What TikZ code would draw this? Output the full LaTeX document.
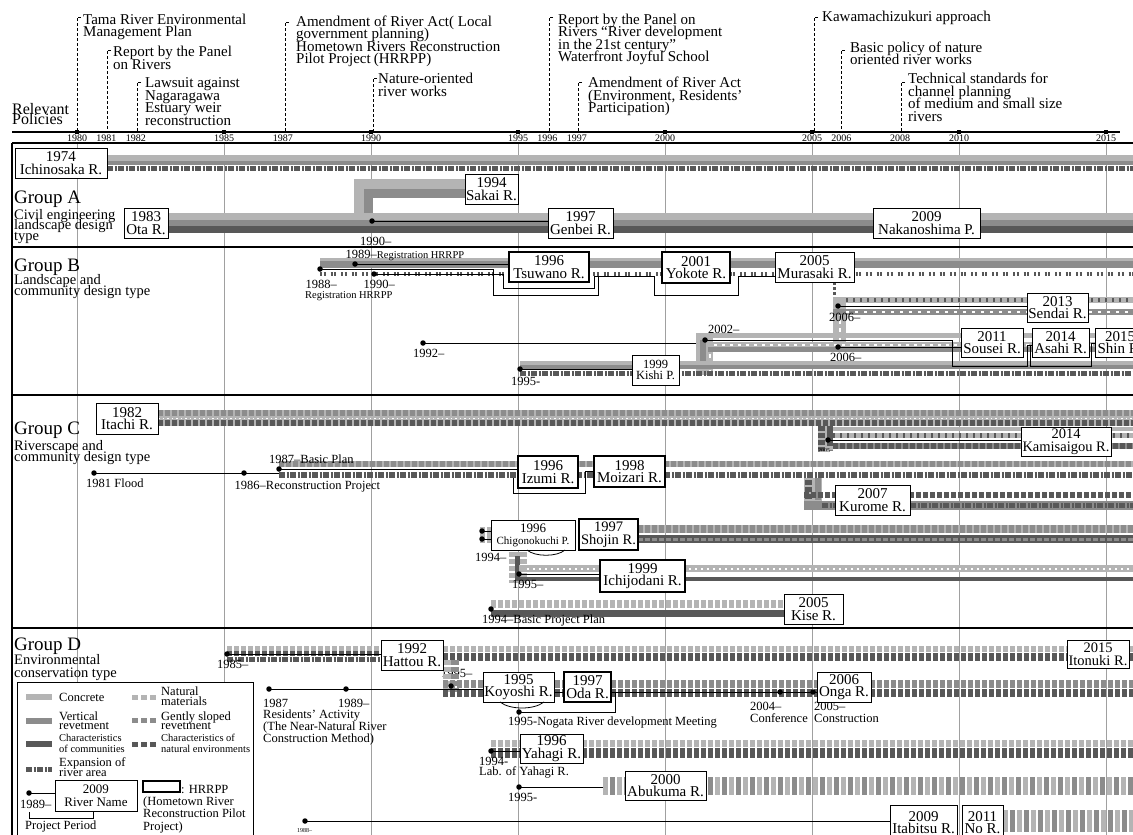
\documentclass[tikz,border=0pt]{standalone}
\usepackage{fontspec}
\setmainfont{Liberation Serif}
\definecolor{cL}{HTML}{B4B4B4}
\definecolor{cM}{HTML}{8C8C8C}
\definecolor{cD}{HTML}{585858}
\definecolor{grd}{HTML}{A0A0A0}
\newcommand\fsz[2]{\fontsize{#1}{#2}\selectfont\lineskiplimit=-100pt\lineskip=0pt\relax}
\newcommand\hb[5][]{\draw[lb,#1,line width=#2] (#4,#3) -- (#5,#3);}
\newcommand\rbx[7][]{\node[rbox,#1,minimum width={(#5-#3)*1pt},minimum height={(#6-#4)*1pt}] (#2) at ({(#3+#5)/2},{(#4+#6)/2}) {#7};}
\begin{document}
\begin{tikzpicture}[x=1pt,y=-1pt,
  lb/.style={line cap=butt},
  sq/.style={dash pattern=on 5pt off 2pt},
  ex/.style={dash pattern=on 6pt off 1.5pt on 2pt off 1.5pt},
  exs/.style={dash pattern=on 2pt off 1.5pt on 2pt off 5pt},
  rbox/.style={draw,fill=white,line width=0.8pt,inner sep=0pt,align=center,font=\fsz{15}{12.6}},
  smb/.style={font=\fsz{14.5}{12.6}},
  hbox/.style={line width=2.8pt},
  txt/.style={inner sep=0pt,anchor=base west,align=left},
  dot/.style={circle,fill=black,inner sep=0pt,minimum size=5.5pt},
  pol/.style={txt,font=\fsz{15}{12.5}},
  ann/.style={txt,font=\fsz{12.5}{12}},
  sml/.style={txt,font=\fsz{10.5}{10.5}},
  tiny/.style={txt,font=\fsz{6}{6}},
  grp/.style={txt,font=\fsz{19}{19}},
  dsc/.style={txt,font=\fsz{14.5}{11}},
  yr/.style={inner sep=0pt,anchor=base,font=\fsz{10}{10}},
  tk/.style={dash pattern=on 3pt off 2pt,line width=0.7pt},
  thn/.style={line width=0.8pt}
]
\clip (0,0) rectangle (1133,835);
\fill[white] (0,0) rectangle (1133,835);

% ---------- grid ----------
\foreach \yy in {1980,1985,...,2015}{\draw[grd,line width=0.7pt] ({77+29.4*(\yy-1980)},143) -- ({77+29.4*(\yy-1980)},835);}

% ---------- axis ----------
\draw[line width=1.6pt] (12,132) -- (1120,132);
\draw[line width=1.6pt] (12,143) -- (1133,143);
\foreach \yy in {1980,1981,1982,1985,1987,1990,1995,1996,1997,2000,2005,2006,2008,2010,2015}{\node[yr] (yl\yy) at ({77+29.4*(\yy-1980)},141) {\yy};}
\foreach \yy in {1980,1985,...,2015}{\fill ({77+29.4*(\yy-1980)-2},130) rectangle ++(4,4);}
\node[txt,font=\fsz{16}{10.5}] (relpol) at (12,124.5) {Relevant\\Policies};

% ---------- policies ----------
\draw[tk] (81,17) -- (77,17) -- (77,132);
\node[pol] (p80) at (83,36.5) {Tama River Environmental\\Management Plan};
\draw[tk] (111,50) -- (107,50) -- (107,132);
\node[pol] (p81) at (113,69) {Report by the Panel\\on Rivers};
\draw[tk] (141,82) -- (137,82) -- (137,132);
\node[pol] (p82) at (145,125) {Lawsuit against\\Nagaragawa\\Estuary weir\\reconstruction};
\draw[tk] (289,22) -- (285,22) -- (285,132);
\node[pol] (p87) at (296,63.5) {Amendment of River Act( Local\\government planning)\\Hometown Rivers Reconstruction\\Pilot Project\hspace{3pt}(HRRPP)};
\draw[tk] (377,78) -- (373,78) -- (373,132);
\node[pol] (p90) at (378,96) {Nature-oriented\\river works};
\draw[tk] (553,17) -- (549,17) -- (549,132);
\node[pol] (p96) at (558,61.5) {Report by the Panel on\\Rivers “River development\\in the 21st century”\\Waterfront Joyful School};
\draw[tk] (582,82) -- (578,82) -- (578,132);
\node[pol] (p97) at (588,112.5) {Amendment of River Act\\(Environment, Residents’\\Participation)};
\draw[tk] (818,17) -- (814,17) -- (814,132);
\node[pol] (p05) at (822,21.5) {Kawamachizukuri approach};
\draw[tk] (845,50) -- (841,50) -- (841,132);
\node[pol] (p06) at (850,64.5) {Basic policy of nature\\oriented river works};
\draw[tk] (905,82) -- (901,82) -- (901,132);
\node[pol] (p08) at (908,121) {Technical standards for\\channel planning\\of medium and small size\\rivers};

% ---------- frame ----------
\draw[line width=1.6pt] (12,143) -- (12,835);
\draw[line width=1.6pt] (12,247) -- (1133,247);
\draw[line width=1.6pt] (12,395) -- (1133,395);
\draw[line width=1.6pt] (12,628) -- (1133,628);

% ---------- Group A ----------
\node[grp] (gA) at (14,203) {Group A};
\node[dsc,font=\fsz{14.5}{10.5}] (gAd) at (14,240) {Civil engineering\\landscape design\\type};
\hb[cL]{6pt}{157.5}{107}{1133}
\hb[cM]{4.5pt}{162.75}{107}{1133}
\hb[cD,ex]{5.5pt}{168.5}{107}{1133}
\hb[cL]{7pt}{216.5}{168}{1133}
\hb[cM]{6pt}{223}{168}{1133}
\hb[cD]{7pt}{229.5}{168}{1133}
\draw[cL,line width=10pt,line join=miter,lb] (465,184) -- (358.5,184) -- (358.5,213);
\draw[cM,line width=9pt,line join=miter,lb] (465,193.5) -- (368,193.5) -- (368,213);
\node[dot] (d90a) at (372,221) {};
\node[ann] (l90a) at (360,245) {1990–};

% ---------- Group B ----------
\node[grp] (gB) at (14,271) {Group B};
\node[dsc] (gBd) at (14,295.5) {Landscape and\\community design type};
\hb[cL]{3pt}{259.5}{320}{1133}
\hb[cM]{7pt}{264.5}{320}{1133}
\hb[cD,exs]{4.5pt}{274}{320}{1133}
\node[dot] (d88) at (320,269) {};
\node[dot] (d89) at (355,264) {};
\node[dot] (d90b) at (374,274) {};
\draw[thn] (d88.center) -- (493,269) -- (493,295) -- (598,295) -- (598,276);
\draw[thn] (d90b.center) -- (503,274) -- (503,288) -- (594,288) -- (594,276);
\draw[thn] (594,276) -- (654,276) -- (654,295) -- (738,295) -- (738,276) -- (775,276);
\node[txt] (l89) at (345.5,258) {\fsz{12.5}{12}1989–\fsz{10.5}{10}Registration HRRPP};
\node[ann] (l88) at (305.5,288) {1988–};
\node[sml] (l88r) at (305,298) {Registration HRRPP};
\node[ann] (l90b) at (363.5,288) {1990–};
% Sendai
\draw[cD,line width=3pt,dash pattern=on 3pt off 2pt,lb] (834,282) -- (834,298);
\draw[cL,line width=13pt,lb] (839.5,297) -- (839.5,342);
\draw[white,line width=2pt,dash pattern=on 4pt off 4pt,lb] (840,312) -- (840,342);
\hb[cL]{6pt}{300}{833}{1133}
\hb[cD,dash pattern=on 2pt off 5pt]{4pt}{300}{846}{1133}
\hb[cM]{6pt}{312}{833}{1133}
\hb[white,dash pattern=on 3pt off 6pt]{2pt}{312}{846}{1133}
\node[dot] (d06a) at (838,306) {};
\node[ann] (l06a) at (829,321) {2006–};
% 2002 block
\hb[cL]{5pt}{335.5}{696}{1133}
\draw[cL,line width=17pt,lb] (704.5,333) -- (704.5,375);
\draw[cM,line width=6pt,lb] (703,340) -- (703,368);
\draw[white,line width=2pt,dash pattern=on 4pt off 4pt,lb] (710,346) -- (710,375);
\hb[cL]{5pt}{344.5}{708}{1133}
\hb[white,dash pattern=on 3pt off 5pt]{2pt}{344.5}{714}{1133}
\hb[cM]{5pt}{349.5}{708}{1133}
\node[dot] (d92) at (423,343) {};
\draw[thn] (d92.center) -- (696,343);
\node[ann] (l92) at (413,357) {1992–};
\node[dot] (d02) at (705,340) {};
\node[ann] (l02) at (708,333) {2002–};
\node[dot] (d06b) at (838,347) {};
\node[ann] (l06b) at (830,361) {2006–};
% Kishi
\hb[cL]{4pt}{363}{520}{1133}
\hb[cM]{4pt}{367}{520}{1133}
\hb[cD,ex]{5pt}{373.5}{520}{1133}
\node[dot] (d95b) at (520,369) {};
\node[ann] (l95b) at (511,385) {1995-};

% ---------- Group C ----------
\node[grp] (gC) at (14,434.5) {Group C};
\node[dsc] (gCd) at (14,461) {Riverscape and\\community design type};
\hb[cL]{16pt}{418}{158}{1133}
\hb[cM,sq]{6pt}{413}{158}{1133}
\hb[white,dash pattern=on 1.5pt off 3pt]{1.2pt}{418.5}{158}{1133}
\hb[cD,sq]{6pt}{423}{158}{1133}
% Kamisaigou
\draw[cL,line width=15pt,lb] (825.5,426) -- (825.5,451);
\draw[cD,sq,line width=7pt,lb] (821.5,426) -- (821.5,451);
\draw[cD,line width=6pt,lb] (830,426) -- (830,446);
\hb[cL]{4pt}{429}{833}{1133}
\hb[cL]{5pt}{435.5}{833}{1133}
\hb[cD,dash pattern=on 2pt off 5pt]{5pt}{435.5}{833}{1133}
\hb[cM]{6pt}{446}{833}{1133}
\hb[cD,sq]{6pt}{446}{833}{1133}
\node[dot] (d05k) at (828,440) {};
\node[tiny] (l05k) at (818,452) {2005–};
% Izumi / Moizari
\hb[cL]{6pt}{464}{279}{1133}
\hb[cM,sq]{6pt}{464}{279}{1133}
\hb[cD,ex]{6pt}{475}{279}{1133}
\node[dot] (d81) at (94,473) {};
\node[dot] (d86) at (244,473) {};
\node[dot] (d87) at (279,469) {};
\draw[thn] (d81.center) -- (279,473);
\node[ann] (l87) at (269,463) {1987–Basic Plan};
\node[ann] (l81) at (86,487) {1981 Flood};
\node[ann] (l86) at (234.5,489) {1986–Reconstruction Project};
\draw[thn] (513,478) -- (513,493) -- (585,493) -- (585,471) -- (594,471);
% Kurome
\draw[cL,line width=18pt,lb] (813,478) -- (813,510);
\draw[cD,sq,line width=7pt,lb] (808,480) -- (808,510);
\draw[cM,line width=6pt,lb] (818,478) -- (818,500);
\hb[cD,sq]{6pt}{495}{804}{1133}
\hb[cM]{9pt}{505}{804}{1133}
\hb[cD,ex]{5pt}{505}{822}{1133}
% Chigonokuchi / Shojin
\draw[cL,sq,line width=16pt,lb] (480,535) -- (491,535);
\node[dot] (dch1) at (482,531) {};
\node[dot] (dch2) at (482,539) {};
\hb[cL]{8pt}{529}{638}{1133}
\hb[cM,sq]{8pt}{529}{638}{1133}
\hb[cD]{8pt}{539}{638}{1133}
\hb[cM,sq]{3pt}{539}{638}{1133}
\node[ann] (l94c) at (475,561) {1994–};
% Ichijodani
\draw[cL,sq,line width=18pt,lb] (518,552) -- (518,583);
\draw[cD,line width=5pt,lb] (517.5,556) -- (517.5,579);
\hb[cL]{7pt}{568.5}{519}{1133}
\hb[white,dash pattern=on 2pt off 4pt]{2pt}{568.5}{527}{1133}
\hb[cD]{4pt}{579}{515}{1133}
\node[dot] (d95c) at (519,574) {};
\node[ann] (l95c) at (512,588) {1995–};
% Kise
\hb[cL,sq]{8pt}{604}{491}{784}
\hb[cD]{7pt}{613.5}{491}{784}
\node[dot] (d94k) at (491,609) {};
\node[ann] (l94k) at (482,623) {1994–Basic Project Plan};

% ---------- Group D ----------
\node[grp] (gD) at (14,650) {Group D};
\node[dsc,font=\fsz{14.5}{12.5}] (gDd) at (14,677) {Environmental\\conservation type};
\hb[cL,sq]{5pt}{648}{227}{381}
\hb[cD,sq]{5pt}{653}{227}{381}
\hb[cD,ex]{5pt}{659.5}{227}{381}
\node[dot] (d85) at (227,654) {};
\node[ann] (l85) at (217,668) {1985–};
\hb[cL,sq]{6pt}{649}{443}{1133}
\hb[cD,sq]{8pt}{657}{443}{1133}
\node[ann] (l95h) at (441,677) {1995–};
\draw[cL,sq,line width=8pt,lb] (447,660) -- (447,692);
\draw[cM,sq,line width=8pt,lb] (455,660) -- (455,692);
% Koyoshi / Oda / Onga
\hb[cM,sq]{8pt}{684}{443}{1133}
\hb[cD,sq]{8pt}{693}{443}{1133}
\node[dot] (d87d) at (269,689) {};
\node[dot] (d89d) at (346,689) {};
\node[dot] (d95d) at (451,686) {};
\node[ann] (l87d) at (263,707) {1987};
\node[ann] (l89d) at (338,707) {1989–};
\node[txt,font=\fsz{12.5}{11.7}] (lres) at (263,742) {Residents’ Activity\\(The Near-Natural River\\Construction Method)};
\node[dot] (d95n) at (519,712) {};
\node[ann] (l95n) at (508,725) {1995-Nogata River development Meeting};
\node[dot] (d04) at (780,692) {};
\node[dot] (d05) at (813,692) {};
\node[ann] (l04) at (750,722.5) {2004–\\Conference};
\node[ann] (l05) at (814,722.5) {2005–\\Construction};
% Yahagi
\hb[cL,sq]{7pt}{743.5}{491}{1133}
\hb[cD,sq]{10pt}{753}{491}{1133}
\node[dot] (d94y) at (491,751) {};
\node[ann] (l94y) at (479,765) {1994-};
\node[ann] (l94yb) at (479,775.5) {Lab. of Yahagi R.};
% Abukuma
\hb[cL,dash pattern=on 5pt off 9pt]{18pt}{786}{603}{1133}
\hb[cM,dash pattern=on 5pt off 9pt,dash phase=7pt]{18pt}{786}{603}{1133}
\node[dot] (d95a) at (519,787) {};
\draw[thn] (d95a.center) -- (603,787);
\node[ann] (l95a) at (508,801) {1995-};
% Itabitsu / No
\hb[cL,dash pattern=on 5pt off 9pt]{22pt}{821}{1003}{1133}
\hb[cM,dash pattern=on 5pt off 9pt,dash phase=7pt]{22pt}{821}{1003}{1133}
\node[dot] (d88i) at (305,821) {};
\node[tiny] (l88i) at (297,832) {1988–};

% ---------- boxes ----------
\rbx{ichinosaka}{15}{148}{107}{178}{1974\\Ichinosaka R.}
\rbx{ota}{124}{208}{168}{238}{1983\\Ota R.}
\rbx{sakai}{465}{174}{518}{204}{1994\\Sakai R.}
\rbx{genbei}{548}{208}{613}{238}{1997\\Genbei R.}
\rbx{nakanoshima}{873}{208}{980}{238}{2009\\Nakanoshima P.}
\rbx[hbox]{tsuwano}{509}{252}{589}{282}{1996\\Tsuwano R.}
\rbx[hbox]{yokote}{662}{252}{730}{283}{2001\\Yokote R.}
\rbx{murasaki}{775}{252}{854}{282}{2005\\Murasaki R.}
\rbx{sendai}{1027}{293}{1088}{322}{2013\\Sendai R.}
\rbx{sousei}{961}{328}{1023}{357}{2011\\Sousei R.}
\rbx{asahi}{1032}{328}{1089}{357}{2014\\Asahi R.}
\rbx{shin}{1095}{328}{1145}{357}{2015\\Shin R.}
\rbx[font=\fsz{12.5}{11}]{kishi}{632}{355}{679}{385}{1999\\Kishi P.}
\rbx{itachi}{96}{403}{158}{434}{1982\\Itachi R.}
\rbx[smb]{kamisaigou}{1021}{427}{1111}{456}{2014\\Kamisaigou R.}
\rbx[hbox]{izumi}{518}{456}{578}{488}{1996\\Izumi R.}
\rbx[hbox]{moizari}{594}{456}{665}{487}{1998\\Moizari R.}
\rbx{kurome}{835}{485}{910}{515}{2007\\Kurome R.}
\rbx[font=\fsz{11}{12}]{chigo}{491}{520}{575}{550}{{\fontsize{13}{12}\selectfont 1996}\\Chigonokuchi P.}
\rbx[hbox,smb]{shojin}{579}{519}{638}{550}{1997\\Shojin R.}
\rbx[hbox]{ichijodani}{600}{560}{685}{592}{1999\\Ichijodani R.}
\rbx{kise}{784}{594}{843}{624}{2005\\Kise R.}
\rbx{hattou}{381}{640}{443}{670}{1992\\Hattou R.}
\rbx[smb]{itonuki}{1067}{640}{1129}{668}{2015\\Itonuki R.}
\rbx{koyoshi}{483}{672}{554}{702}{1995\\Koyoshi R.}
\rbx[hbox]{oda}{564}{672}{611}{702}{1997\\Oda R.}
\rbx{onga}{817}{672}{871}{702}{2006\\Onga R.}
\rbx{yahagi}{520}{734}{583}{763}{1996\\Yahagi R.}
\rbx{abukuma}{625}{771}{706}{800}{2000\\Abukuma R.}
\rbx{itabitsu}{890}{805}{957}{840}{2009\\Itabitsu R.}
\rbx{nor}{962}{805}{1003}{840}{2011\\No R.}

% ---------- connectors ----------
\draw[thn] (d90a.center) -- (genbei.west |- d90a);
\draw[thn] (d89.center) -- (tsuwano.west |- d89);
\draw[thn] (d06a.center) -- (sendai.west |- d06a);
\draw[thn] (d02.center) -- (952,340) -- (952,366) -- (1027,366) -- (1027,345) -- (asahi.west |- 0,345);
\draw[thn] (d06b.center) -- (sousei.west |- d06b);
\draw[thn] (1030,345) -- (1030,366) -- (1091,366) -- (1091,343) -- (shin.west |- 0,343);
\draw[thn] (d95b.center) -- (kishi.west |- d95b);
\draw[thn] (d05k.center) -- (kamisaigou.west |- d05k);
\draw[thn] (d87.center) -- (izumi.west |- d87);
\draw[thn] (dch1.center) -- (chigo.west |- dch1);
\draw[thn] (dch2.center) -- (chigo.west |- dch2);
\draw[thn] (527,550) .. controls (535,557) and (557,557) .. (565,550);
\draw[thn] (d95c.center) -- (ichijodani.west |- d95c);
\draw[thn] (d85.center) -- (hattou.west |- d85);
\draw[thn] (d87d.center) -- (koyoshi.west |- d87d);
\draw[thn] (koyoshi.east |- 0,692) -- (oda.west |- 0,692);
\draw[thn] (oda.east |- 0,692) -- (onga.west |- 0,692);
\draw[thn] (615,692) -- (615,712) -- (d95n.center);
\draw[thn] (500,702) .. controls (510,710) and (534,710) .. (544,702);
\draw[thn] (d94y.center) -- (yahagi.west |- d94y);
\draw[thn] (d88i.center) -- (itabitsu.west |- d88i);

% ---------- legend ----------
\node[draw,fill=white,line width=1pt,inner sep=0pt,minimum width=236pt,minimum height=160pt] (legend) at (135,762) {};
\hb[cL]{6pt}{697}{26}{52}
\hb[cM]{6pt}{720.5}{26}{52}
\hb[cD]{5.5pt}{744}{26}{52}
\hb[cD,ex]{5pt}{769}{26}{52}
\hb[cL,dash pattern=on 6pt off 3pt]{5pt}{697}{132}{156}
\hb[cM,dash pattern=on 6pt off 3pt]{5pt}{720.5}{132}{156}
\hb[cD,dash pattern=on 6pt off 3pt]{5pt}{744}{132}{156}
\node[ann] (lg1) at (59,701) {Concrete};
\node[txt,font=\fsz{12.5}{10}] (lg2) at (161,705.5) {Natural\\materials};
\node[txt,font=\fsz{12.5}{9.5}] (lg3) at (59,729.5) {Vertical\\revetment};
\node[txt,font=\fsz{12.5}{9.5}] (lg4) at (161,729.5) {Gently sloped\\revetment};
\node[txt,font=\fsz{10.5}{11}] (lg5) at (59,752.5) {Characteristics\\of communities};
\node[txt,font=\fsz{10.5}{11}] (lg6) at (161,752.5) {Characteristics of\\natural environments};
\node[txt,font=\fsz{12.5}{9.5}] (lg7) at (59,776) {Expansion of\\river area};
\node[dot] (dlg) at (29,793) {};
\rbx[font=\fsz{13}{12.6}]{lgbox}{55}{780}{137}{811}{2009\\River Name}
\draw[thn] (dlg.center) -- (lgbox.west |- dlg);
\node[ann] (lg89) at (20,808) {1989–};
\draw[thn] (29,812) -- (29,818) -- (93,818) -- (93,812);
\node[ann] (lgpp) at (25,829) {Project Period};
\node[draw,line width=2.8pt,inner sep=0pt,minimum width=37pt,minimum height=11pt] (lghr) at (161.5,786.5) {};
\node[ann] (lghrt) at (181,793) {: HRRPP};
\node[txt,font=\fsz{12.5}{12.5}] (lghrd) at (143,830) {(Hometown River\\Reconstruction Pilot\\Project)};
\end{tikzpicture}
\end{document}
